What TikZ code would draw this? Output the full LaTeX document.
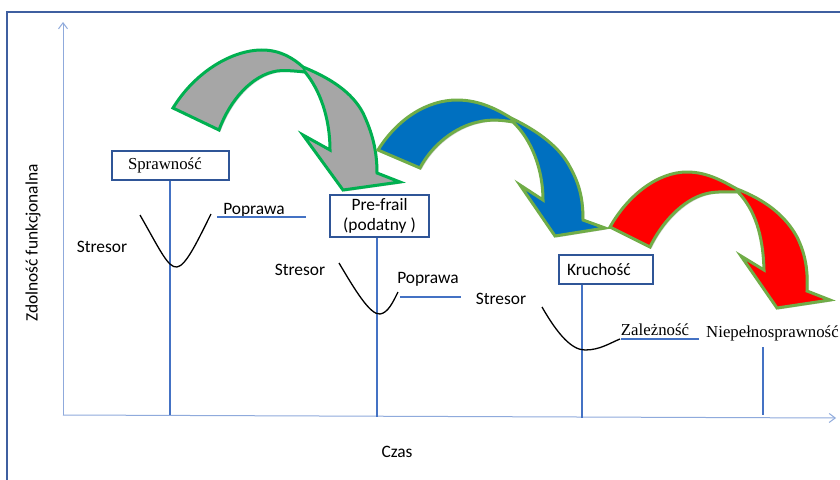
\documentclass[tikz,border=0pt]{standalone}
\usepackage{fontspec}
\setmainfont{Liberation Serif}
\newfontfamily\calib{Carlito}
\usetikzlibrary{arrows.meta,shadows}
\definecolor{framec}{HTML}{3F5FA0}
\definecolor{boxc}{HTML}{2F5597}
\definecolor{axisc}{HTML}{8FAADC}
\definecolor{linec}{HTML}{4472C4}
\definecolor{grayf}{HTML}{A6A6A6}
\definecolor{greenA}{HTML}{00B050}
\definecolor{greenB}{HTML}{70AD47}
\definecolor{bluef}{HTML}{0070C0}
\definecolor{redf}{HTML}{FF0000}
\tikzset{
  sans/.style={font=\calib\fontsize{17.4}{20}\selectfont, inner sep=0pt},
  serif/.style={font=\fontsize{16.8}{19}\selectfont, inner sep=0pt},
  stagebox/.style={draw=boxc, line width=1.3pt, fill=white},
  axisline/.style={draw=axisc, line width=1pt},
  vline/.style={draw=linec, line width=1.1pt},
  curveline/.style={draw=black, line width=1.3pt},
  bigarrow/.style={line width=3pt, line join=miter,
     drop shadow={shadow xshift=1.5pt, shadow yshift=-1.5pt, opacity=0.35}},
}
\begin{document}
\begin{tikzpicture}[x=1pt,y=-1pt]
\useasboundingbox (0,0) rectangle (840,479);
\clip (0,0) rectangle (840,479);
\fill[white] (0,0) rectangle (840,479);
% outer frame
\draw[framec, line width=1.2pt] (7,495) -- (7,12) -- (860,12);
% axes
\coordinate (o) at (63,415);
\coordinate (ytop) at (63,22);
\coordinate (xend) at (836,418);
\draw[axisline, -{Straight Barb[length=6pt,width=9pt]}] (o) -- (ytop);
\draw[axisline, -{Straight Barb[length=6pt,width=9pt]}] (o) -- (xend);
\node[sans, rotate=90] (ylab) at (33,243) {Zdolność funkcjonalna};
\node[sans] (czas) at (397,452) {Czas};

% curved arrows
\filldraw[bigarrow, draw=greenA, fill=grayf]
 (173,108) .. controls (195,72) and (232,50) .. (262,50)
 .. controls (280,50) and (293,58) .. (303,67)
 .. controls (330,78) and (352,92) .. (363,113)
 .. controls (372,132) and (377,150) .. (377,173)
 -- (400,182) -- (343,190) -- (303,135) -- (330,150)
 .. controls (330,118) and (320,90) .. (305,72)
 .. controls (295,71) and (285,70) .. (277,71)
 .. controls (252,75) and (230,100) .. (219,130) -- cycle;
\draw[greenA, line width=2pt] (303,67) -- (305,72);

\filldraw[bigarrow, draw=greenB, fill=bluef]
 (378,150) .. controls (398,118) and (428,100) .. (457,100)
 .. controls (480,100) and (498,110) .. (511,118)
 .. controls (540,132) and (560,148) .. (570,167)
 .. controls (580,185) and (583,200) .. (583,220)
 -- (605,228) -- (555,236) -- (520,185) -- (543,200)
 .. controls (543,170) and (532,140) .. (513,122)
 .. controls (502,120) and (490,119) .. (478,122)
 .. controls (455,127) and (432,145) .. (420,168) -- cycle;
\draw[greenB, line width=2pt] (511,118) -- (513,122);

\filldraw[bigarrow, draw=greenB, fill=redf]
 (610,227) .. controls (628,195) and (658,172) .. (687,172)
 .. controls (708,172) and (724,182) .. (737,189)
 .. controls (765,200) and (785,215) .. (797,237)
 .. controls (806,255) and (808,272) .. (807,291)
 -- (830,300) -- (777,308) -- (741,256) -- (764,270)
 .. controls (763,235) and (755,210) .. (738,192)
 .. controls (728,192) and (715,191) .. (705,194)
 .. controls (683,200) and (662,222) .. (650,247) -- cycle;
\draw[greenB, line width=2pt] (737,189) -- (738,192);

% stage boxes
\node[stagebox, serif, text width=85pt, inner xsep=16pt, inner ysep=0pt, minimum height=29pt, align=left] (spr) at (170.5,165.5) {Sprawność};
\node[stagebox, sans, minimum width=99pt, minimum height=42pt, align=center, font=\calib\fontsize{17.4}{19.5}\selectfont] (pf) at (379.5,216) {Pre-frail\\(podatny )};
\node[stagebox, sans, text width=78pt, inner xsep=8pt, inner ysep=0pt, minimum height=29pt, align=left] (kr) at (606,269.5) {Kruchość};

% vertical lines
\coordinate (b1) at (170,415);
\coordinate (b2) at (377,417);
\coordinate (b3) at (582,418);
\coordinate (b4t) at (763,347);
\coordinate (b4) at (763,415);
\draw[vline] (spr.south -| b1) -- (b1);
\draw[vline] (pf.south -| b2) -- (b2);
\draw[vline] (kr.south -| b3) -- (b3);
\draw[vline] (b4t) -- (b4);

% stressor curves
\draw[curveline] (140,215) .. controls (160,250) and (168,268) .. (177,267)
  .. controls (186,266) and (198,240) .. (211,214);
\draw[curveline] (339,263) .. controls (355,290) and (370,315) .. (380,314)
  .. controls (388,313) and (393,302) .. (398,292);
\draw[curveline] (542,307) .. controls (558,335) and (572,350) .. (585,350)
  .. controls (600,350) and (610,343) .. (620,339);

% labels
\node[sans] (s1) at (102,247) {Stresor};
\node[sans] (p1) at (254,210) {Poprawa};
\draw[vline] (217,217) -- (306,217);
\node[sans] (s2) at (300,270) {Stresor};
\node[sans] (p2) at (428,279) {Poprawa};
\draw[vline] (400,297) -- (461,297);
\node[sans] (s3) at (501,299) {Stresor};
\node[serif] (zal) at (655,330) {Zależność};
\draw[vline] (621,339) -- (699,339);
\node[serif, anchor=west] (niep) at (706,333) {Niepełnosprawność};
\end{tikzpicture}
\end{document}
